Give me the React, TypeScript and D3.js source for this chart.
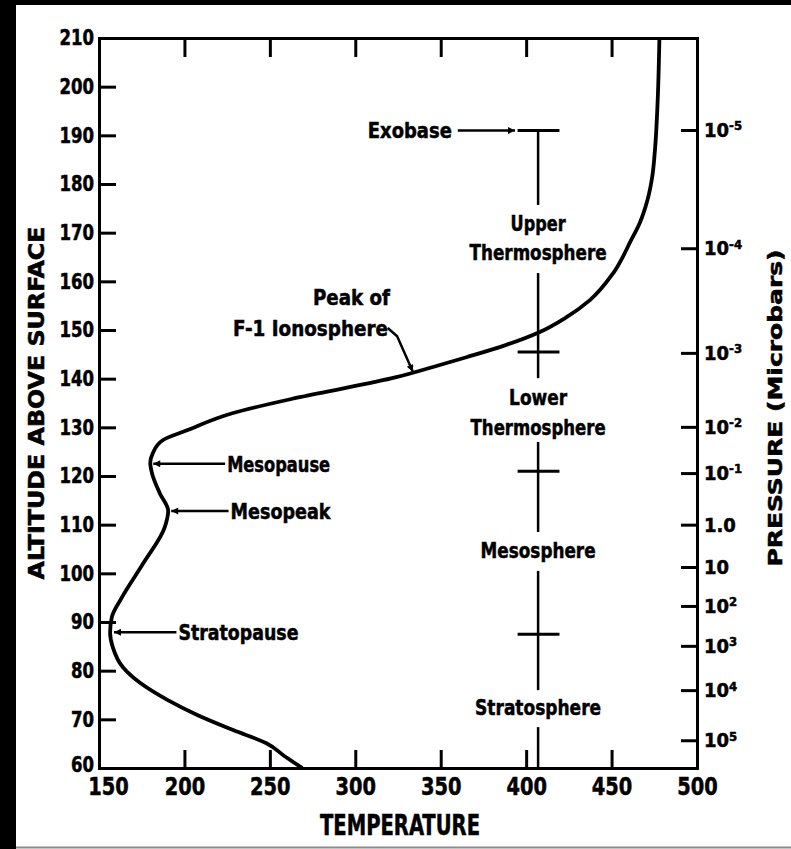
import React, { useEffect, useRef } from "react";
import * as d3 from "d3";

const WIDTH = 791;
const HEIGHT = 849;

// Mean temperature profile: altitude (km) and temperature (K)
const altitudeKm = [
  60, 62.2, 65.1, 67.8, 70.9, 74.0, 77.5, 80.7, 84.9, 87.8, 91.0, 94.8, 102.1,
  109.5, 112.8, 116.5, 120.6, 122.7, 124.7, 127.4, 129.4, 132.9, 136.2, 140.3,
  142.4, 144.4, 146.9, 149.6, 152.5, 156.2, 161.7, 168.5, 172.0, 176.7, 181.5,
  187.0, 197.3, 210,
];
const temperatureK = [
  269, 259.5, 248, 228.5, 207.5, 190, 174, 164, 158, 156.5, 157.5, 163, 176,
  188.5, 190.5, 185.5, 181, 180, 181.5, 187.5, 201.5, 228, 267.5, 324, 345.5,
  365, 388, 408, 423, 437.5, 451, 461.5, 466.5, 471, 473.8, 475.4, 477, 478,
];

const temperatureTicks = [150, 200, 250, 300, 350, 400, 450, 500];
const altitudeTicks = [60, 70, 80, 90, 100, 110, 120, 130, 140, 150, 160, 170, 180, 190, 200, 210];

// Pressure scale (microbars) on the right, placed at the matching altitude
const pressureBase = ["10", "10", "10", "10", "10", "1.0", "10", "10", "10", "10", "10"];
const pressureExp = ["-5", "-4", "-3", "-2", "-1", "", "", "2", "3", "4", "5"];
const pressureAltKm = [191.1, 166.8, 145.3, 130.1, 120.6, 110.0, 101.3, 93.3, 85.1, 76.0, 65.7];

// Layer column
const columnT = 407;
const exobaseAltKm = 191;
const boundaryAltKm = [145.5, 121, 87.5];
const columnTop = [191, 161.7, 127, 100.5, 68.4];
const columnBottom = [175.7, 140.1, 108.5, 76, 60];
const layerLines = ["Upper", "Thermosphere", "Lower", "Thermosphere", "Mesosphere", "Stratosphere"];
const layerLineAltKm = [172, 166, 136.2, 130.1, 104.8, 72.5];

// Features marked on the profile
const featureNames = ["Mesopause", "Mesopeak", "Stratopause"];
const featureAltKm = [122.5, 112.8, 87.9];
const featureT = [180, 190.5, 157];
const featureLabelT = [225, 227, 196.5];

// Peak of F-1 ionosphere leader (T, altitude)
const f1LeaderT = [319, 324.5, 333.7];
const f1LeaderAlt = [150.4, 148.7, 141.4];

const FONT = "'DejaVu Sans Condensed', 'Liberation Sans Narrow', 'DejaVu Sans', sans-serif";

export default function App() {
  const ref = useRef<SVGSVGElement>(null);

  useEffect(() => {
    const svg = d3.select(ref.current as SVGSVGElement);
    svg.selectAll("*").remove();

    const x = d3.scaleLinear().domain([150, 500]).range([99, 697]);
    const y = d3.scaleLinear().domain([60, 210]).range([768, 38]);

    // page frame
    svg.append("rect").attr("width", WIDTH).attr("height", HEIGHT).attr("fill", "#fff");
    svg.append("rect").attr("width", WIDTH).attr("height", 5).attr("fill", "#000");
    svg.append("rect").attr("width", 16).attr("height", HEIGHT).attr("fill", "#000");
    svg.append("line").attr("x1", 16).attr("x2", WIDTH).attr("y1", 847.5).attr("y2", 847.5)
      .attr("stroke", "#8a8a8a").attr("stroke-width", 2);

    const defs = svg.append("defs");
    defs.append("marker").attr("id", "arrow").attr("viewBox", "0 0 10 10")
      .attr("refX", 10).attr("refY", 5).attr("markerWidth", 10).attr("markerHeight", 7)
      .attr("markerUnits", "userSpaceOnUse").attr("orient", "auto")
      .append("path").attr("d", "M0,0L10,5L0,10Z").attr("fill", "#000");

    const styleAxis = (
      g: d3.Selection<SVGGElement, unknown, null, undefined>,
      size: number,
      digitWidth: number
    ) => {
      g.attr("font-family", FONT).attr("font-size", size).attr("font-weight", "bold");
      g.select(".domain").attr("stroke", "#000").attr("stroke-width", 3).attr("stroke-linecap", "square");
      g.selectAll(".tick line").attr("stroke", "#000").attr("stroke-width", 3);
      g.selectAll<SVGTextElement, number>(".tick text")
        .attr("fill", "#000").attr("stroke", "#000").attr("stroke-width", 0.5)
        .attr("font-stretch", "condensed")
        .each(function () {
          const t = this.textContent || "";
          if (digitWidth > 0 && t.length > 0) {
            d3.select(this).attr("textLength", t.length * digitWidth).attr("lengthAdjust", "spacingAndGlyphs");
          }
        });
    };

    // left: altitude
    const gLeft = svg.append("g").attr("transform", `translate(${x(150)},0)`);
    gLeft.call(
      d3.axisLeft(y).tickValues(altitudeTicks).tickSizeInner(-17).tickSizeOuter(0)
        .tickPadding(5).tickFormat(d3.format("d"))
    );
    styleAxis(gLeft, 21, 11.5);
    gLeft.selectAll<SVGTextElement, number>(".tick text").filter((d) => d === 60).attr("y", -3);

    // bottom: temperature
    const gBottom = svg.append("g").attr("transform", `translate(0,${y(60)})`);
    gBottom.call(
      d3.axisBottom(x).tickValues(temperatureTicks).tickSizeInner(-18).tickSizeOuter(0)
        .tickPadding(9).tickFormat(d3.format("d"))
    );
    styleAxis(gBottom, 25, 13.5);
    gBottom.selectAll<SVGTextElement, number>(".tick text").filter((d) => d === 150).attr("x", 9);

    // top: ticks only
    const gTop = svg.append("g").attr("transform", `translate(0,${y(210)})`);
    gTop.call(
      d3.axisTop(x).tickValues(temperatureTicks).tickSizeInner(-19).tickSizeOuter(0)
        .tickFormat(() => "")
    );
    styleAxis(gTop, 19, 0);

    // right: pressure
    const gRight = svg.append("g").attr("transform", `translate(${x(500)},0)`);
    gRight.call(
      d3.axisRight(y).tickValues(pressureAltKm).tickSizeInner(-16).tickSizeOuter(0)
        .tickPadding(7).tickFormat((_d, i) => pressureBase[i])
    );
    styleAxis(gRight, 20, 0);
    gRight.selectAll<SVGTextElement, number>(".tick text").each(function (_d, i) {
      const exp = pressureExp[i];
      if (exp) {
        d3.select(this).append("tspan").attr("dy", "-0.5em").attr("font-size", 13).text(exp);
      }
    });

    // axis titles
    const title = (txt: string, tx: number, ty: number, size: number, len: number, rot: boolean) => {
      svg.append("text")
        .attr("transform", `translate(${tx},${ty})${rot ? " rotate(-90)" : ""}`)
        .attr("text-anchor", "middle").attr("font-family", FONT).attr("font-weight", "bold")
        .attr("font-stretch", "condensed").attr("font-size", size)
        .attr("stroke", "#000").attr("stroke-width", 0.5)
        .attr("textLength", len).attr("lengthAdjust", "spacingAndGlyphs").text(txt);
    };
    title("TEMPERATURE", 400, 835, 28, 160, false);
    title("ALTITUDE ABOVE SURFACE", 44, 403, 21, 353, true);
    title("PRESSURE (Microbars)", 782, 408, 20, 317, true);

    // temperature profile (altitude increases monotonically along the curve)
    const idx = d3.range(altitudeKm.length);
    const line = d3.line<number>()
      .x((i) => x(temperatureK[i]))
      .y((i) => y(altitudeKm[i]))
      .curve(d3.curveMonotoneY);
    svg.append("path").attr("d", line(idx)).attr("fill", "none")
      .attr("stroke", "#000").attr("stroke-width", 3.8).attr("stroke-linejoin", "round");

    const label = (txt: string, tx: number, ty: number, anchor: string, len: number) => {
      svg.append("text").attr("x", tx).attr("y", ty).attr("dy", "0.36em")
        .attr("text-anchor", anchor).attr("font-family", FONT).attr("font-weight", "bold")
        .attr("font-stretch", "condensed").attr("font-size", 22)
        .attr("stroke", "#000").attr("stroke-width", 0.5)
        .attr("textLength", len).attr("lengthAdjust", "spacingAndGlyphs").text(txt);
    };

    // layer column
    const cx = x(columnT);
    columnTop.forEach((top, i) => {
      svg.append("line").attr("x1", cx).attr("x2", cx).attr("y1", y(top)).attr("y2", y(columnBottom[i]))
        .attr("stroke", "#000").attr("stroke-width", 2.5);
    });
    [exobaseAltKm, ...boundaryAltKm].forEach((a) => {
      svg.append("line").attr("x1", x(columnT - 12)).attr("x2", x(columnT + 12.5))
        .attr("y1", y(a)).attr("y2", y(a)).attr("stroke", "#000").attr("stroke-width", 3);
    });
    const layerWidths = [55, 137, 58, 135, 115, 126];
    layerLines.forEach((t, i) => label(t, cx, y(layerLineAltKm[i]), "middle", layerWidths[i]));

    // exobase pointer
    svg.append("line").attr("x1", x(360)).attr("x2", x(393.5))
      .attr("y1", y(exobaseAltKm)).attr("y2", y(exobaseAltKm))
      .attr("stroke", "#000").attr("stroke-width", 2.5).attr("marker-end", "url(#arrow)");
    label("Exobase", x(356.5), y(exobaseAltKm), "end", 84);

    // features on the curve
    const featureWidths = [103, 100, 120];
    featureNames.forEach((name, i) => {
      const yy = y(featureAltKm[i]);
      svg.append("line").attr("x1", x(featureLabelT[i]) - 2).attr("x2", x(featureT[i]) + 3)
        .attr("y1", yy).attr("y2", yy).attr("stroke", "#000").attr("stroke-width", 2.5)
        .attr("marker-end", "url(#arrow)");
      label(name, x(featureLabelT[i]), yy, "start", featureWidths[i]);
    });

    // peak of F-1 ionosphere
    const leader = d3.line<number>().x((i) => x(f1LeaderT[i])).y((i) => y(f1LeaderAlt[i]));
    svg.append("path").attr("d", leader(d3.range(f1LeaderT.length))).attr("fill", "none")
      .attr("stroke", "#000").attr("stroke-width", 2.5).attr("marker-end", "url(#arrow)");
    label("Peak of", 390, 297, "end", 77);
    label("F-1 Ionosphere", 388, 328, "end", 155);
  }, []);

  return (
    <svg
      ref={ref}
      width={WIDTH}
      height={HEIGHT}
      style={{ position: "absolute", left: 0, top: 0, display: "block" }}
    />
  );
}
